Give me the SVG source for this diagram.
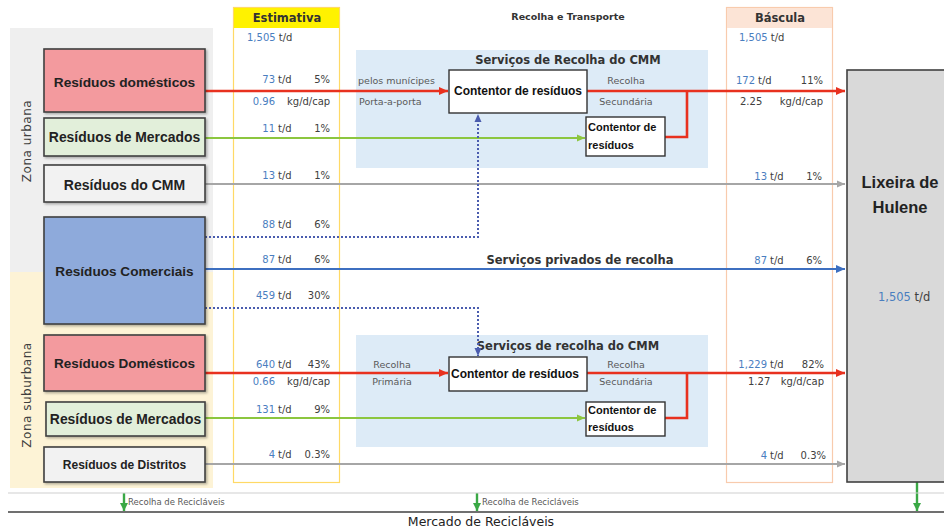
<svg xmlns="http://www.w3.org/2000/svg" width="944" height="529" viewBox="0 0 944 529">
<style>
.node{stroke:#404040;stroke-width:1.6}
.nl{font-family:"Liberation Sans",Arial,sans-serif;font-weight:bold;fill:#222;text-anchor:middle}
.n{font-family:"DejaVu Sans",sans-serif;font-size:10px;fill:#404040}
.b{fill:#4a7ebf}
.e{text-anchor:end}
.small{font-family:"DejaVu Sans",sans-serif;font-size:9.5px;fill:#595959}
.hd{font-family:"DejaVu Sans",sans-serif;font-weight:bold;fill:#333}
.box{fill:#fff;stroke:#333;stroke-width:1.4}
.bt{font-family:"Liberation Sans",Arial,sans-serif;font-weight:bold;fill:#111}
.red{stroke:#e8311f;stroke-width:2.6;fill:none}
.grn{stroke:#8cc63f;stroke-width:2.2;fill:none}
.gry{stroke:#a6a6a6;stroke-width:2.2;fill:none}
.blu{stroke:#3d6fc0;stroke-width:2.2;fill:none}
.dot{stroke:#4a5cae;stroke-width:2;stroke-dasharray:2 2;fill:none}
.rg{stroke:#3aa845;stroke-width:2.4;fill:none}
</style>
<defs>
<marker id="aR" markerWidth="10" markerHeight="10" refX="9" refY="5" orient="auto" markerUnits="userSpaceOnUse"><path d="M0,1 L9,5 L0,9 z" fill="#e8311f"/></marker>
<marker id="aG" markerWidth="9" markerHeight="9" refX="8" refY="4.5" orient="auto" markerUnits="userSpaceOnUse"><path d="M0,1 L8,4.5 L0,8 z" fill="#8cc63f"/></marker>
<marker id="aY" markerWidth="9" markerHeight="9" refX="8" refY="4.5" orient="auto" markerUnits="userSpaceOnUse"><path d="M0,1 L8,4.5 L0,8 z" fill="#a6a6a6"/></marker>
<marker id="aB" markerWidth="10" markerHeight="10" refX="9" refY="5" orient="auto" markerUnits="userSpaceOnUse"><path d="M0,1 L9,5 L0,9 z" fill="#3d6fc0"/></marker>
<marker id="aD" markerWidth="9" markerHeight="9" refX="8" refY="4.5" orient="auto" markerUnits="userSpaceOnUse"><path d="M0,1 L8,4.5 L0,8 z" fill="#4a5cae"/></marker>
<marker id="aRG" markerWidth="9" markerHeight="9" refX="8" refY="4.5" orient="auto" markerUnits="userSpaceOnUse"><path d="M0,0.5 L8,4.5 L0,8.5 z" fill="#3aa845"/></marker>
<filter id="sh" x="-5%" y="-5%" width="115%" height="120%"><feDropShadow dx="1.5" dy="1.5" stdDeviation="1" flood-color="#000" flood-opacity="0.3"/></filter>
</defs>

<!-- backgrounds -->
<rect x="10" y="28" width="203" height="244" fill="#efefef"/>
<rect x="10" y="272" width="203" height="216" fill="#fdf3d6"/>
<rect x="356" y="50" width="352" height="118" fill="#ddebf7"/>
<rect x="356" y="335" width="352" height="112" fill="#ddebf7"/>

<!-- zone labels -->
<text transform="translate(31,141) rotate(-90)" style="font-family:'DejaVu Sans',sans-serif;font-size:12px;fill:#404040;text-anchor:middle;letter-spacing:0.5px">Zona urbana</text>
<text transform="translate(31,395) rotate(-90)" style="font-family:'DejaVu Sans',sans-serif;font-size:12px;fill:#404040;text-anchor:middle;letter-spacing:0.5px">Zona suburbana</text>

<!-- columns -->
<g id="estimativa">
<rect x="233.5" y="7.5" width="106" height="475" fill="#fff" stroke="#ffd966" stroke-width="1.2"/>
<rect x="234" y="8" width="105" height="20" fill="#fff200"/>
<text x="287" y="22" class="hd" style="font-size:11.5px" text-anchor="middle">Estimativa</text>
</g>
<g id="bascula">
<rect x="726.5" y="7.5" width="106" height="475" fill="#fff" stroke="#f8cbad" stroke-width="1.2"/>
<rect x="727" y="8" width="105" height="20" fill="#fce4d6"/>
<text x="780" y="22" class="hd" style="font-size:11.5px" text-anchor="middle">Báscula</text>
</g>
<text x="568" y="20" class="hd" style="font-size:9.5px" text-anchor="middle">Recolha e Transporte</text>

<!-- service region titles -->
<text x="568" y="64" class="hd" style="font-size:11.5px" text-anchor="middle">Serviços de Recolha do CMM</text>
<text x="568" y="350" class="hd" style="font-size:11.5px" text-anchor="middle">Serviços de recolha do CMM</text>

<!-- connectors -->
<g id="connectors">
<line x1="205" y1="91" x2="448" y2="91" class="red" marker-end="url(#aR)"/>
<line x1="587" y1="91" x2="845" y2="91" class="red" marker-end="url(#aR)"/>
<polyline points="665,137 687,137 687,91" class="red"/>
<line x1="205" y1="138" x2="585" y2="138" class="grn" marker-end="url(#aG)"/>
<line x1="205" y1="184" x2="845" y2="184" class="gry" marker-end="url(#aY)"/>
<polyline points="205,237 478,237 478,114" class="dot" marker-end="url(#aD)"/>
<line x1="205" y1="269" x2="845" y2="269" class="blu" marker-end="url(#aB)"/>
<polyline points="205,308 478,308 478,356" class="dot" marker-end="url(#aD)"/>
<line x1="205" y1="373" x2="448" y2="373" class="red" marker-end="url(#aR)"/>
<line x1="587" y1="373" x2="845" y2="373" class="red" marker-end="url(#aR)"/>
<polyline points="665,418 687,418 687,373" class="red"/>
<line x1="205" y1="418" x2="585" y2="418" class="grn" marker-end="url(#aG)"/>
<line x1="205" y1="464" x2="845" y2="464" class="gry" marker-end="url(#aY)"/>
<line x1="124" y1="493" x2="124" y2="511" class="rg" marker-end="url(#aRG)"/>
<line x1="477" y1="493" x2="477" y2="511" class="rg" marker-end="url(#aRG)"/>
<line x1="917" y1="482" x2="917" y2="511" class="rg" marker-end="url(#aRG)"/>
</g>

<!-- source nodes -->
<g id="res-domesticos-urb"><rect x="44" y="49" width="161" height="63" fill="#f39a9e" class="node" filter="url(#sh)"/><text x="124.5" y="87" class="nl" style="font-size:13.7px">Resíduos domésticos</text></g>
<g id="res-mercados-urb"><rect x="44" y="118" width="161" height="38" fill="#e2efda" class="node" filter="url(#sh)"/><text x="124.5" y="142" class="nl" style="font-size:13.9px">Resíduos de Mercados</text></g>
<g id="res-cmm"><rect x="44" y="165" width="161" height="37" fill="#f2f2f2" class="node" filter="url(#sh)"/><text x="124.5" y="190" class="nl" style="font-size:14px">Resíduos do CMM</text></g>
<g id="res-comerciais"><rect x="44" y="217" width="161" height="107" fill="#8eaadb" class="node" filter="url(#sh)"/><text x="124.5" y="276" class="nl" style="font-size:13.6px">Resíduos Comerciais</text></g>
<g id="res-domesticos-sub"><rect x="44" y="335" width="161" height="56" fill="#f39a9e" class="node" filter="url(#sh)"/><text x="124.5" y="368" class="nl" style="font-size:13.5px">Resíduos Domésticos</text></g>
<g id="res-mercados-sub"><rect x="46" y="402" width="159" height="34" fill="#e2efda" class="node" filter="url(#sh)"/><text x="125.5" y="424" class="nl" style="font-size:13.9px">Resíduos de Mercados</text></g>
<g id="res-distritos"><rect x="44" y="447" width="161" height="35" fill="#f2f2f2" class="node" filter="url(#sh)"/><text x="124.5" y="469" class="nl" style="font-size:12px">Resíduos de Distritos</text></g>

<!-- containers -->
<g id="contentor-urb"><rect x="449" y="70" width="138" height="43" class="box"/><text x="518" y="95" class="bt" style="font-size:12px" text-anchor="middle">Contentor de resíduos</text></g>
<g id="contentor-mercado-urb"><rect x="586" y="117" width="79" height="39" class="box"/><text x="588" y="131" class="bt" style="font-size:11px">Contentor de</text><text x="588" y="149" class="bt" style="font-size:11px">resíduos</text></g>
<g id="contentor-sub"><rect x="449" y="357" width="138" height="34" class="box"/><text x="451" y="378" class="bt" style="font-size:12px">Contentor de resíduos</text></g>
<g id="contentor-mercado-sub"><rect x="586" y="402" width="79" height="34" class="box"/><text x="588" y="414" class="bt" style="font-size:11px">Contentor de</text><text x="588" y="431" class="bt" style="font-size:11px">resíduos</text></g>

<!-- lixeira -->
<g id="lixeira"><rect x="847" y="70" width="100" height="412" fill="#d9d9d9" stroke="#404040" stroke-width="1.6"/>
<text x="900" y="188" class="bt" style="font-size:16.5px;fill:#222" text-anchor="middle">Lixeira de</text>
<text x="900" y="213" class="bt" style="font-size:16.5px;fill:#222" text-anchor="middle">Hulene</text>
<text x="878" y="301" class="n" style="font-size:11.5px"><tspan class="b">1,505</tspan> t/d</text></g>

<!-- service labels -->
<text x="358" y="84" class="small">pelos munícipes</text>
<text x="359" y="105" class="small">Porta-a-porta</text>
<text x="626" y="84" class="small" text-anchor="middle">Recolha</text>
<text x="626" y="105" class="small" text-anchor="middle">Secundária</text>
<text x="392" y="368" class="small" text-anchor="middle">Recolha</text>
<text x="392" y="385" class="small" text-anchor="middle">Primária</text>
<text x="626" y="368" class="small" text-anchor="middle">Recolha</text>
<text x="626" y="385" class="small" text-anchor="middle">Secundária</text>
<text x="580" y="264" class="hd" style="font-size:11.5px" text-anchor="middle">Serviços privados de recolha</text>

<!-- Estimativa values -->
<g class="n">
<text x="247" y="41"><tspan class="b">1,505</tspan> t/d</text>
<text x="275" y="83" class="e b">73</text><text x="278" y="83">t/d</text><text x="330" y="83" class="e">5%</text>
<text x="275" y="105" class="e b">0.96</text><text x="287" y="105">kg/d/cap</text>
<text x="275" y="132" class="e b">11</text><text x="278" y="132">t/d</text><text x="330" y="132" class="e">1%</text>
<text x="275" y="179" class="e b">13</text><text x="278" y="179">t/d</text><text x="330" y="179" class="e">1%</text>
<text x="275" y="228" class="e b">88</text><text x="278" y="228">t/d</text><text x="330" y="228" class="e">6%</text>
<text x="275" y="263" class="e b">87</text><text x="278" y="263">t/d</text><text x="330" y="263" class="e">6%</text>
<text x="275" y="299" class="e b">459</text><text x="278" y="299">t/d</text><text x="330" y="299" class="e">30%</text>
<text x="275" y="368" class="e b">640</text><text x="278" y="368">t/d</text><text x="330" y="368" class="e">43%</text>
<text x="275" y="385" class="e b">0.66</text><text x="287" y="385">kg/d/cap</text>
<text x="275" y="413" class="e b">131</text><text x="278" y="413">t/d</text><text x="330" y="413" class="e">9%</text>
<text x="275" y="458" class="e b">4</text><text x="278" y="458">t/d</text><text x="330" y="458" class="e">0.3%</text>
</g>

<!-- Bascula values -->
<g class="n">
<text x="739" y="41"><tspan class="b">1,505</tspan> t/d</text>
<text x="755" y="84" class="e b">172</text><text x="758" y="84">t/d</text><text x="823" y="84" class="e">11%</text>
<text x="740" y="105">2.25</text><text x="823" y="105" class="e">kg/d/cap</text>
<text x="767" y="180" class="e b">13</text><text x="770" y="180">t/d</text><text x="822" y="180" class="e">1%</text>
<text x="767" y="264" class="e b">87</text><text x="770" y="264">t/d</text><text x="822" y="264" class="e">6%</text>
<text x="767" y="368" class="e b">1,229</text><text x="770" y="368">t/d</text><text x="824" y="368" class="e">82%</text>
<text x="748" y="385">1.27</text><text x="824" y="385" class="e">kg/d/cap</text>
<text x="767" y="459" class="e b">4</text><text x="770" y="459">t/d</text><text x="826" y="459" class="e">0.3%</text>
</g>

<!-- bottom -->
<line x1="8" y1="493" x2="944" y2="493" stroke="#cfcfcf" stroke-width="1.2"/>
<line x1="8" y1="512" x2="944" y2="512" stroke="#404040" stroke-width="1.5"/>
<text x="128" y="505" class="small" style="font-size:8.5px">Recolha de Recicláveis</text>
<text x="482" y="505" class="small" style="font-size:8.5px">Recolha de Recicláveis</text>
<text x="481" y="526" style="font-family:'DejaVu Sans',sans-serif;font-size:12.5px;fill:#222" text-anchor="middle">Mercado de Recicláveis</text>
</svg>
